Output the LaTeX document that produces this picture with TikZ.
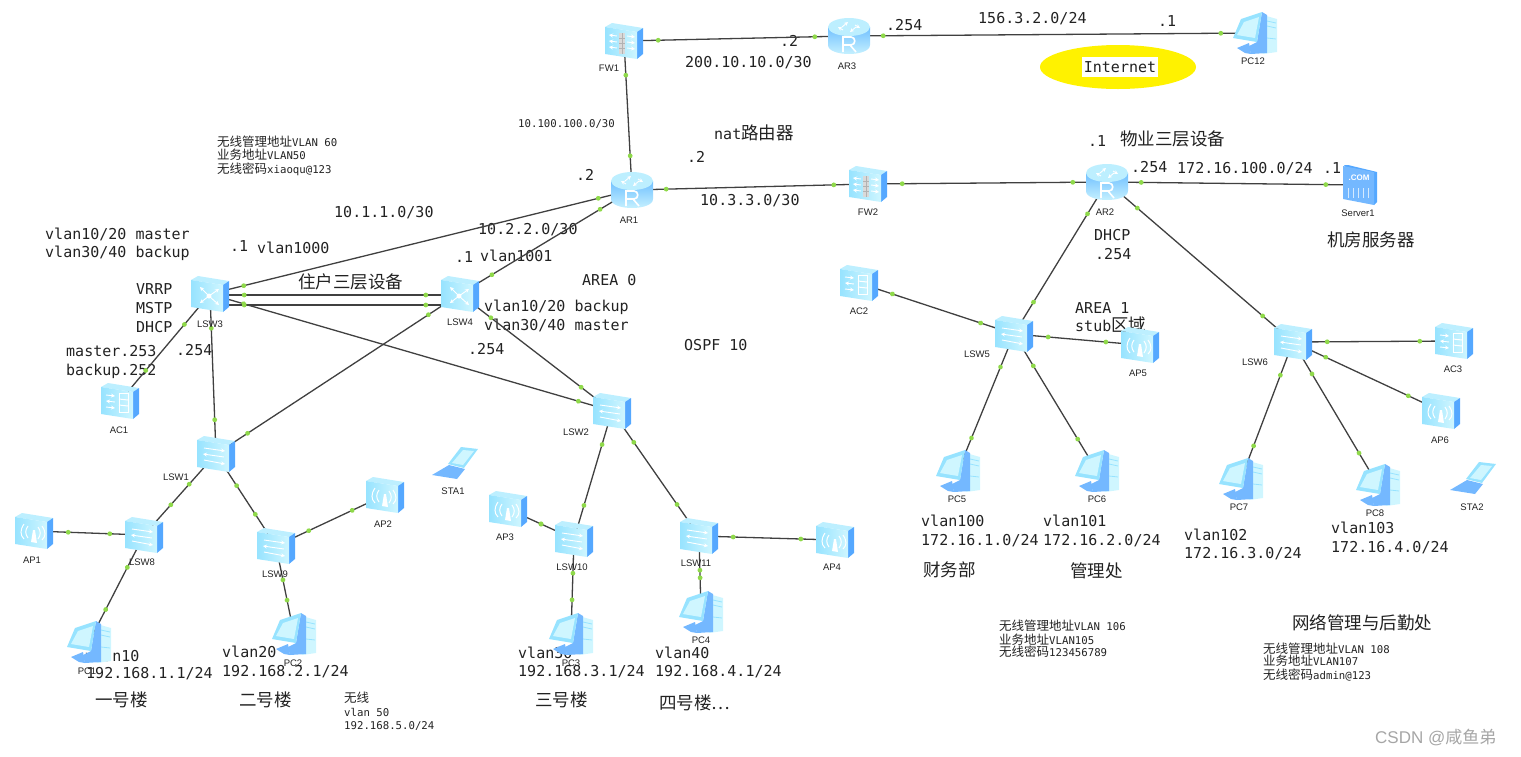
\documentclass[tikz,border=0pt]{standalone}
\usepackage{fontspec}
\usepackage{xcolor}
\setmainfont{Liberation Sans}
\setmonofont{DejaVu Sans Mono}
\newfontfamily\cjk{Noto Sans CJK SC}
\usepackage{tikz}
\usetikzlibrary{arrows.meta, decorations.markings}

\definecolor{linkgray}{HTML}{404040}
\definecolor{dotgreen}{HTML}{8FD94A}
\definecolor{inktext}{HTML}{222222}
\definecolor{faceA}{HTML}{97E3FF}
\definecolor{faceB}{HTML}{CFF6FF}
\definecolor{facetop}{HTML}{BDEFFF}
\definecolor{faceside}{HTML}{55A8FF}
\definecolor{towerblue}{HTML}{74B8FF}

\newcommand{\zhs}[1]{{\cjk\fontsize{12.5}{13}\selectfont #1}}
\newcommand{\zhb}[1]{{\cjk\fontsize{17.5}{18}\selectfont #1}}

\tikzset{
  devnode/.style={minimum width=36pt, minimum height=36pt, inner sep=0pt},
  devlab/.style={font=\rmfamily\fontsize{9.5}{11}\selectfont, text=inktext, inner sep=0pt},
  txt/.style={font=\ttfamily\fontsize{15}{18}\selectfont, text=inktext, anchor=west, inner sep=0pt, text height=11pt, text depth=0pt},
  smalltxt/.style={font=\ttfamily\fontsize{10.7}{13}\selectfont, text=inktext, anchor=west, inner sep=0pt, text height=8pt, text depth=0pt},
  zhtxt/.style={font=\cjk\fontsize{17.5}{20}\selectfont, text=inktext, anchor=west, inner sep=0pt, text height=15pt, text depth=2pt},
  wire/.style={draw=linkgray, line width=1.3pt},
  link/.style={decoration={markings,
      mark=at position 16pt with {\fill[dotgreen] circle (2.4pt);},
      mark=at position -16pt with {\fill[dotgreen] circle (2.4pt);}}, postaction={decorate}},
  glyph/.style={draw=white, line width=1pt},
  glyphtip/.style={draw=white, line width=.9pt, -{Stealth[length=4pt,width=4pt]}},
  boxbase/.pic={
    \fill[facetop] (-19,-14) -- (-12,-18) -- (19,-13) -- (13,-9) -- cycle;
    \fill[faceside] (13,-9) -- (19,-13) -- (19,13) -- (13,18) -- cycle;
    \shade[left color=faceA, right color=faceB] (-19,-14) -- (13,-9) -- (13,18) -- (-19,13) -- cycle;
  },
  l2sw/.pic={
    \pic {boxbase};
    \draw[glyphtip] (-12,-6) -- (9,-3);
    \draw[glyphtip] (8,3) -- (-13,0);
    \draw[glyphtip] (-12,6) -- (9,10);
  },
  l3sw/.pic={
    \pic {boxbase};
    \foreach \dx/\dy in {-10/-7, 9/-5, -10/9, 9/11} \draw[glyphtip] (-1,2) -- (\dx,\dy);
    \fill[white] (-1,2) circle (2.5pt);
  },
  acbox/.pic={
    \pic {boxbase};
    \draw[glyphtip] (-14,-6) -- (-5,-5);
    \draw[glyphtip] (-5,1) -- (-14,0);
    \draw[glyphtip] (-14,6) -- (-5,7);
    \draw[glyph] (-1,-8) rectangle (8,11);
    \draw[glyph] (-1,-2) -- (8,-1) (-1,4) -- (8,5);
  },
  apbox/.pic={
    \pic {boxbase};
    \fill[white] (-3,11) -- (-1,-1) -- (1,-1) -- (3,12) -- cycle;
    \draw[glyph] (-6,-5) .. controls (-9,-1) and (-9,3) .. (-6,7);
    \draw[glyph] (-10,-7) .. controls (-14,-1) and (-14,4) .. (-10,8);
    \draw[glyph] (4,-4) .. controls (7,0) and (7,4) .. (4,8);
    \draw[glyph] (8,-5) .. controls (12,1) and (12,5) .. (8,9);
  },
  fwbox/.pic={
    \pic {boxbase};
    \fill[white!70!gray] (-5,-8) rectangle (1,13);
    \draw[linkgray!40, line width=.5pt] (-5,-3) -- (1,-3) (-5,2) -- (1,2) (-5,7) -- (1,7) (-2,-8) -- (-2,13);
    \foreach \yy in {-5,1,7} {
      \draw[glyphtip] (-7,\yy) -- (-15,\yy-1);
      \draw[glyphtip] (3,\yy) -- (11,\yy+1);
    }
  },
  router/.pic={
    \shade[top color=faceside!60!faceA, bottom color=faceB] (-21,-9) -- (-21,9) .. controls (-21,21) and (21,21) .. (21,9) -- (21,-9) -- cycle;
    \fill[facetop] (0,-9) ellipse [x radius=21, y radius=9];
    \draw[glyphtip] (-7,-9) -- (-1,-14);
    \draw[glyphtip] (7,-9) -- (1,-4);
    \draw[glyphtip] (-6,-6) -- (-11,-9);
    \draw[glyphtip] (6,-11) -- (11,-8);
    \draw[draw=white, line width=1.6pt] (-6,16) -- (-6,1) -- (2,1) .. controls (7,1) and (7,9) .. (2,9) -- (-6,9) (1,9) -- (7,16);
  },
  pcbox/.pic={
    \fill[faceB] (8,-18) -- (22,-14) -- (22,19) -- (8,21) -- cycle;
    \draw[draw=faceA, line width=.8pt] (12,-12) -- (21,-10) (12,-7) -- (21,-5) (12,5) -- (21,6);
    \fill[towerblue] (7,-21) -- (12,-18) -- (12,20) -- (-4,21) -- (-6,13) -- (2,9) -- cycle;
    \fill[towerblue] (-18,15) -- (-6,10) -- (-4,21) -- (-10,20) -- cycle;
    \fill[faceA] (-14,-14) -- (7,-21) -- (2,9) -- (-22,5) -- cycle;
    \fill[faceB] (-11,-11) -- (4,-16) -- (0,5) -- (-18,2) -- cycle;
  },
  server/.pic={
    \fill[faceside] (-16,-20) -- (-12,-20) -- (17,-13) -- (17,17) -- (14,20) -- cycle;
    \fill[towerblue] (-17,-19) -- (14,-13) -- (14,20) -- (-17,14) -- cycle;
    \node[font=\rmfamily\bfseries\fontsize{8}{9}\selectfont, text=white, inner sep=0pt] (comtag) at (-1,-7) {.COM};
    \foreach \xx in {-12,-7,-2,3,8} \draw[draw=white!70!towerblue, line width=1pt] (\xx,3) -- (\xx,13);
  },
  laptop/.pic={
    \fill[towerblue] (-23,12) -- (-6,2) -- (10,6) -- (2,16) -- cycle;
    \fill[faceA] (-7,1) -- (6,-16) -- (23,-14) -- (9,5) -- cycle;
    \fill[faceB] (-3,0) -- (8,-13) -- (19,-12) -- (8,2) -- cycle;
  },
}

% name / x / y / label x / label y / icon
\newcommand{\devlist}{FW1/624/41/609/68/fwbox, AR3/849/36/847/66/router, PC12/1255/33/1253/61/pcbox,
  AR1/632/190/629/220/router, FW2/868/184/868/212/fwbox, AR2/1107/182/1105/212/router,
  Server1/1360/185/1358/213/server, LSW3/210/294/210/324/l3sw, LSW4/460/294/460/322/l3sw,
  AC1/120/401/119/430/acbox, LSW1/216/454/176/477/l2sw, LSW8/144/535/142/562/l2sw,
  AP1/34/531/32/560/apbox, LSW9/276/546/275/574/l2sw, AP2/385/495/383/524/apbox,
  STA1/455/463/453/491/laptop, PC1/89/642/87/671/pcbox, PC2/294/634/293/663/pcbox,
  LSW2/612/411/576/432/l2sw, LSW10/574/539/572/567/l2sw, LSW11/699/536/696/563/l2sw,
  AP3/508/509/505/537/apbox, AP4/835/540/832/567/apbox, PC3/571/634/571/663/pcbox,
  PC4/701/612/701/640/pcbox, AC2/859/283/859/311/acbox, LSW5/1014/334/977/354/l2sw,
  AP5/1140/345/1138/373/apbox, PC5/958/471/957/499/pcbox, PC6/1097/471/1097/499/pcbox,
  LSW6/1293/342/1255/362/l2sw, AC3/1454/341/1453/369/acbox, AP6/1441/411/1440/440/apbox,
  PC7/1241/479/1239/507/pcbox, PC8/1378/485/1375/513/pcbox, STA2/1473/478/1472/507/laptop}

\begin{document}
\begin{tikzpicture}[x=1pt,y=-1pt]
\useasboundingbox (0,0) rectangle (1521,756);

% cloud
\fill[yellow] (1118,67) ellipse [x radius=78, y radius=22];
\node[font=\ttfamily\fontsize{15}{18}\selectfont, text=inktext, fill=white, inner sep=0pt, minimum width=76pt, minimum height=20pt] (inet) at (1120,67) {Internet};

% labels on the upper part
\node[txt] (t01) at (780,41) {.2};
\node[txt] (t02) at (685,62) {200.10.10.0/30};
\node[txt] (t03) at (886,25) {.254};
\node[txt] (t04) at (978,18) {156.3.2.0/24};
\node[txt] (t05) at (1158,21) {.1};
\node[smalltxt] (t06) at (518,123) {10.100.100.0/30};
\node[txt] (t07) at (714,134) {nat\zhb{路由器}};
\node[txt] (t08) at (687,157) {.2};
\node[txt] (t09) at (576,175) {.2};
\node[txt] (t10) at (700,200) {10.3.3.0/30};
\node[txt] (t11) at (334,212) {10.1.1.0/30};
\node[txt] (t12) at (478,229) {10.2.2.0/30};
\node[txt] (t13) at (45,234) {vlan10/20 master};
\node[txt] (t14) at (45,252) {vlan30/40 backup};
\node[txt] (t15) at (230,246) {.1};
\node[txt] (t16) at (257,248) {vlan1000};
\node[zhtxt] (t17) at (298,282) {住户三层设备};
\node[txt] (t18) at (455,257) {.1};
\node[txt] (t19) at (480,256) {vlan1001};
\node[txt] (t20) at (582,280) {AREA 0};
\node[txt] (t21) at (136,289) {VRRP};
\node[txt] (t22) at (136,308) {MSTP};
\node[txt] (t23) at (136,327) {DHCP};
\node[txt] (t24) at (484,306) {vlan10/20 backup};
\node[txt] (t25) at (484,325) {vlan30/40 master};
\node[txt] (t26) at (66,351) {master.253};
\node[txt] (t27) at (66,370) {backup.252};
\node[txt] (t28) at (176,350) {.254};
\node[txt] (t29) at (468,349) {.254};
\node[txt] (t30) at (684,345) {OSPF 10};
\node[smalltxt] (t31) at (217,142) {\zhs{无线管理地址}VLAN 60};
\node[smalltxt] (t32) at (217,155) {\zhs{业务地址}VLAN50};
\node[smalltxt] (t33) at (217,169) {\zhs{无线密码}xiaoqu@123};

% labels on the right
\node[txt] (t34) at (1088,141) {.1};
\node[zhtxt] (t35) at (1120,139) {物业三层设备};
\node[txt] (t36) at (1131,167) {.254};
\node[txt] (t37) at (1177,168) {172.16.100.0/24};
\node[txt] (t38) at (1323,168) {.1};
\node[zhtxt] (t39) at (1327,240) {机房服务器};
\node[txt] (t40) at (1094,235) {DHCP};
\node[txt] (t41) at (1095,254) {.254};
\node[txt] (t42) at (1075,308) {AREA 1};
\node[txt] (t43) at (1075,326) {stub\zhb{区域}};

% buildings
\node[txt] (t44) at (85,656) {vlan10};
\node[txt] (t45) at (86,673) {192.168.1.1/24};
\node[zhtxt] (t46) at (95,700) {一号楼};
\node[txt] (t47) at (222,652) {vlan20};
\node[txt] (t48) at (222,671) {192.168.2.1/24};
\node[zhtxt] (t49) at (239,700) {二号楼};
\node[smalltxt] (t50) at (344,698) {\zhs{无线}};
\node[smalltxt] (t51) at (344,712) {vlan 50};
\node[smalltxt] (t52) at (344,725) {192.168.5.0/24};
\node[txt] (t53) at (518,653) {vlan30};
\node[txt] (t54) at (518,671) {192.168.3.1/24};
\node[zhtxt] (t55) at (535,700) {三号楼};
\node[txt] (t56) at (655,653) {vlan40};
\node[txt] (t57) at (655,671) {192.168.4.1/24};
\node[zhtxt] (t58) at (659,703) {四号楼…};
\node[txt] (t59) at (921,521) {vlan100};
\node[txt] (t60) at (921,540) {172.16.1.0/24};
\node[txt] (t61) at (1043,521) {vlan101};
\node[txt] (t62) at (1043,540) {172.16.2.0/24};
\node[zhtxt] (t63) at (923,570) {财务部};
\node[zhtxt] (t64) at (1070,571) {管理处};
\node[txt] (t65) at (1184,535) {vlan102};
\node[txt] (t66) at (1184,553) {172.16.3.0/24};
\node[txt] (t67) at (1331,528) {vlan103};
\node[txt] (t68) at (1331,547) {172.16.4.0/24};
\node[zhtxt] (t69) at (1292,623) {网络管理与后勤处};
\node[smalltxt] (t70) at (999,626) {\zhs{无线管理地址}VLAN 106};
\node[smalltxt] (t71) at (999,640) {\zhs{业务地址}VLAN105};
\node[smalltxt] (t72) at (999,652) {\zhs{无线密码}123456789};
\node[smalltxt] (t73) at (1263,649) {\zhs{无线管理地址}VLAN 108};
\node[smalltxt] (t74) at (1263,661) {\zhs{业务地址}VLAN107};
\node[smalltxt] (t75) at (1263,675) {\zhs{无线密码}admin@123};
\node[font=\rmfamily\fontsize{17}{20}\selectfont, text=gray!70, anchor=west, inner sep=0pt] (mark) at (1375,737) {CSDN @{\cjk 咸鱼弟}};

% places for the devices
\foreach \n/\x/\y/\lx/\ly/\k in \devlist {
  \node[devnode] (\n) at (\x,\y) {};
}

% links
\foreach \a/\b in {FW1/AR3, AR3/PC12, FW1/AR1, AR1/FW2, FW2/AR2, AR2/Server1, AR1/LSW3, AR1/LSW4,
    LSW3/LSW2, LSW3/LSW1, LSW3/AC1, LSW4/LSW1, LSW4/LSW2, LSW1/LSW8, LSW1/LSW9, LSW8/AP1, LSW8/PC1,
    LSW9/AP2, LSW9/PC2, LSW2/LSW10, LSW2/LSW11, LSW10/AP3, LSW10/PC3, LSW11/AP4, LSW11/PC4,
    AR2/LSW5, AR2/LSW6, LSW5/AC2, LSW5/AP5, LSW5/PC5, LSW5/PC6, LSW6/AC3, LSW6/AP6, LSW6/PC7, LSW6/PC8} {
  \draw[wire] (\a.center) -- (\b.center);
  \path[link] (\a) -- (\b);
}
\draw[wire] ([yshift=-1pt]LSW3.center) -- ([yshift=-1pt]LSW4.center);
\path[link] ([yshift=-1pt]LSW3.east) -- ([yshift=-1pt]LSW4.west);
\draw[wire] ([yshift=-11pt]LSW3.center) -- ([yshift=-11pt]LSW4.center);
\path[link] ([yshift=-11pt]LSW3.east) -- ([yshift=-11pt]LSW4.west);

% icons and their names
\foreach \n/\x/\y/\lx/\ly/\k in \devlist {
  \pic at (\n) {\k};
  \node[devlab] (\n txt) at (\lx,\ly) {\n};
}

\end{tikzpicture}
\end{document}
